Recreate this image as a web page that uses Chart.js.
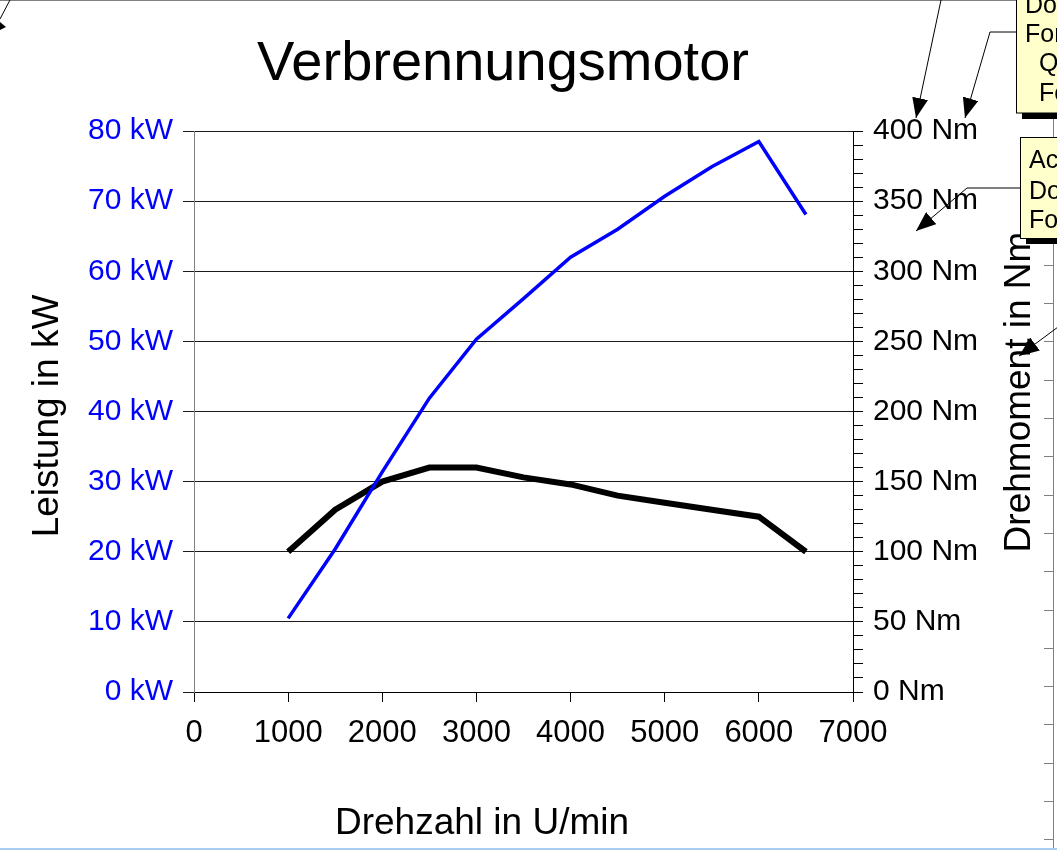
<!DOCTYPE html>
<html>
<head>
<meta charset="utf-8">
<script src="https://cdn.jsdelivr.net/npm/chart.js@4"></script>
<style>
  html, body { margin: 0; padding: 0; background: #fff; }
  #wrap { position: relative; width: 1057px; height: 850px; overflow: hidden; }
  #chart, #deco { position: absolute; left: 0; top: 0; }
</style>
</head>
<body>
<div id="wrap">
  <canvas id="chart" width="1057" height="850"></canvas>
  <svg id="deco" width="1057" height="850" font-family="Liberation Sans, Arial, sans-serif">
    <defs>
      <marker id="pfeil" viewBox="0 0 20 16" refX="20" refY="8" markerWidth="20" markerHeight="16"
              markerUnits="userSpaceOnUse" orient="auto">
        <path d="M0,0 L20,8 L0,16 z" fill="#000"/>
      </marker>
    </defs>
    <line x1="0" y1="0.5" x2="1057" y2="0.5" stroke="#808080"/>
    <line x1="0" y1="849" x2="1057" y2="849" stroke="#a9cbee" stroke-width="2"/>
    <g id="lineal" stroke="#808080">
      <line x1="1053.5" y1="0" x2="1053.5" y2="848"/>
    </g>

    <line x1="941" y1="0" x2="916" y2="118" stroke="#000" marker-end="url(#pfeil)"/>
    <polyline points="1016,32 990,32 965,118" fill="none" stroke="#000" marker-end="url(#pfeil)"/>
    <polyline points="1020,188 967,188 916,231" fill="none" stroke="#000" marker-end="url(#pfeil)"/>
    <line x1="1058" y1="327" x2="1019" y2="356" stroke="#000" marker-end="url(#pfeil)"/>
    <line x1="10" y1="0" x2="0" y2="19" stroke="#000"/>
    <path d="M0,22 L6,27 L0,30 z" fill="#000"/>

    <rect x="1022" y="-4" width="60" height="123" fill="#000"/>
    <rect x="1016.5" y="-10" width="60" height="123" fill="#ffffcc" stroke="#000"/>
    <g font-size="25" fill="#000">
      <text x="1025" y="13">Do</text>
      <text x="1025" y="42">For</text>
      <text x="1039" y="71">Q</text>
      <text x="1039" y="101">Fo</text>
    </g>

    <rect x="1026" y="143" width="60" height="101" fill="#000"/>
    <rect x="1020.5" y="137.5" width="60" height="101" fill="#ffffcc" stroke="#000"/>
    <g font-size="25" fill="#000">
      <text x="1029" y="168">Ac</text>
      <text x="1029" y="199">Do</text>
      <text x="1029" y="228">Fo</text>
    </g>
  </svg>
</div>
<script>
const drehzahl = [1000, 1500, 2000, 2500, 3000, 3500, 4000, 4500, 5000, 5500, 6000, 6500];
const leistung = [10.5, 20.4, 31.4, 41.9, 50.3, 56.1, 62.0, 66.0, 70.7, 74.9, 78.5, 68.1];
const drehmoment = [100, 130, 150, 160, 160, 153, 148, 140, 135, 130, 125, 100];

const drehzahlTicks = [0, 1000, 2000, 3000, 4000, 5000, 6000, 7000];
const leistungTicks = [0, 10, 20, 30, 40, 50, 60, 70, 80];
const drehmomentTicks = [0, 10, 20, 30, 40, 50, 60, 70, 80, 90, 100, 110, 120, 130, 140, 150,
  160, 170, 180, 190, 200, 210, 220, 230, 240, 250, 260, 270, 280, 290, 300, 310, 320, 330,
  340, 350, 360, 370, 380, 390, 400];
const drehmomentLabels = [0, 50, 100, 150, 200, 250, 300, 350, 400];

const titel = "Verbrennungsmotor";
const xTitel = "Drehzahl in U/min";
const yTitel = "Leistung in kW";
const y2Titel = "Drehmoment in Nm";

const FONT = '"Liberation Sans", Arial, sans-serif';

// ruler marks on the right edge of the screenshot
const lineal = document.getElementById("lineal");
for (let y = 35; y < 848; y += 38.3) {
    const t = document.createElementNS("http://www.w3.org/2000/svg", "line");
    t.setAttribute("x1", 1044);
    t.setAttribute("x2", 1053);
    t.setAttribute("y1", Math.round(y) + 0.5);
    t.setAttribute("y2", Math.round(y) + 0.5);
    lineal.appendChild(t);
}

const texte = {
    id: "texte",
    afterDraw(chart) {
        const ctx = chart.ctx;
        const area = chart.chartArea;
        ctx.save();
        ctx.fillStyle = "#000";
        ctx.textAlign = "center";
        ctx.textBaseline = "middle";

        ctx.font = `56px ${FONT}`;
        ctx.fillText(titel, 503, area.top - 66);

        ctx.font = `37px ${FONT}`;
        ctx.fillText(xTitel, 482, area.bottom + 132);

        ctx.save();
        ctx.translate(48, 416);
        ctx.rotate(-Math.PI / 2);
        ctx.fillText(yTitel, 0, 0);
        ctx.restore();

        ctx.save();
        ctx.translate(1020, 392);
        ctx.rotate(-Math.PI / 2);
        ctx.fillText(y2Titel, 0, 0);
        ctx.restore();

        ctx.restore();
    }
};

function setTicks(values) {
    return (scale) => {
        scale.ticks = values.map((v) => ({ value: v }));
    };
}

new Chart(document.getElementById("chart"), {
    type: "line",
    data: {
        datasets: [
            {
                label: "Leistung",
                data: drehzahl.map((n, i) => ({ x: n, y: leistung[i] })),
                borderColor: "#0000ff",
                borderWidth: 3.5,
                pointRadius: 0,
                tension: 0,
                yAxisID: "y"
            },
            {
                label: "Drehmoment",
                data: drehzahl.map((n, i) => ({ x: n, y: drehmoment[i] })),
                borderColor: "#000000",
                borderWidth: 6,
                pointRadius: 0,
                tension: 0,
                yAxisID: "y2"
            }
        ]
    },
    options: {
        responsive: false,
        animation: false,
        layout: { padding: { top: 131, left: 0, right: 0, bottom: 0 } },
        plugins: {
            legend: { display: false },
            tooltip: { enabled: false }
        },
        scales: {
            x: {
                type: "linear",
                min: 0,
                max: 7000,
                afterBuildTicks: setTicks(drehzahlTicks),
                afterFit: (scale) => { scale.height = 158; },
                grid: { drawOnChartArea: false, color: "#000", tickLength: 10 },
                border: { color: "#000" },
                ticks: {
                    color: "#000",
                    font: { family: FONT, size: 31 },
                    padding: 13,
                    maxRotation: 0,
                    autoSkip: false,
                    callback: (v) => String(v)
                }
            },
            y: {
                position: "left",
                min: 0,
                max: 80,
                afterBuildTicks: setTicks(leistungTicks),
                afterFit: (scale) => { scale.width = 194; },
                grid: { color: "#1a1a1a", tickLength: 11 },
                border: { color: "#808080" },
                ticks: {
                    color: "#0000ff",
                    font: { family: FONT, size: 30 },
                    padding: 10,
                    autoSkip: false,
                    callback: (v) => `${v} kW`
                }
            },
            y2: {
                position: "right",
                min: 0,
                max: 400,
                afterBuildTicks: setTicks(drehmomentTicks),
                afterFit: (scale) => { scale.width = 204; },
                grid: { drawOnChartArea: false, color: "#000", tickLength: 10 },
                border: { color: "#000" },
                ticks: {
                    color: "#000",
                    font: { family: FONT, size: 30 },
                    padding: 10,
                    autoSkip: false,
                    callback: (v) => drehmomentLabels.includes(v) ? `${v} Nm` : ""
                }
            }
        }
    },
    plugins: [texte]
});
</script>
</body>
</html>
